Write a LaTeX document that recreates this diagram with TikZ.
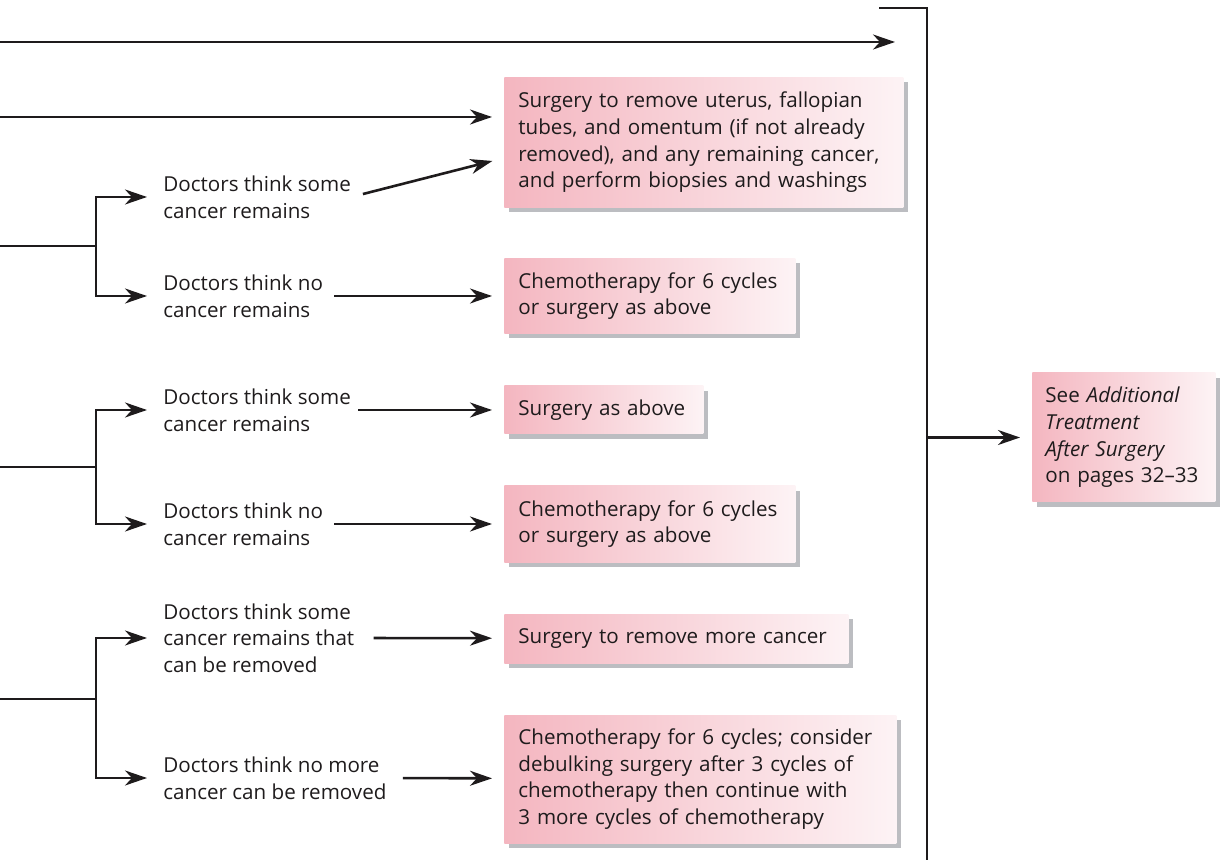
\documentclass[tikz,border=0pt]{standalone}
\usepackage{fontspec}
\setmainfont{Open Sans}
\usetikzlibrary{arrows.meta,shadows}
\begin{document}
\begin{tikzpicture}[x=0.5pt,y=-0.5pt,font=\fontsize{10.3}{13.3}\selectfont]
\definecolor{inkcolor}{RGB}{30,27,28}
\definecolor{pinkleft}{RGB}{244,182,192}
\definecolor{pinkright}{RGB}{253,243,245}
\definecolor{shadowcolor}{RGB}{188,189,193}
\tikzstyle{wire}=[inkcolor,line width=1.3pt]
\tikzstyle{arr}=[wire,-{Stealth[length=11pt,width=7.5pt,inset=3.5pt]}]
\tikzstyle{tobox}=[arr,shorten >=6pt]
\tikzstyle{doctext}=[text=inkcolor,align=left,inner sep=0pt,anchor=west]
\tikzstyle{treatbox}=[text=inkcolor,align=left,inner xsep=7pt,inner ysep=0pt,anchor=west,left color=pinkleft,right color=pinkright,drop shadow={shadow xshift=2.5pt,shadow yshift=-2.5pt,fill=shadowcolor,opacity=1}]
\useasboundingbox (0,0) rectangle (1220,860);
% treatment boxes
\node[treatbox,anchor=north west,text width=185.5pt,minimum height=65pt] (b1) at (504,77) {Surgery to remove uterus, fallopian\\tubes, and omentum (if not already\\removed), and any remaining cancer,\\and perform biopsies and washings};
\node[treatbox,text width=131.5pt,minimum height=37.5pt] (b2) at (504,296) {Chemotherapy for 6 cycles\\or surgery as above};
\node[treatbox,text width=85.5pt,minimum height=24pt] (b3) at (504,410) {Surgery as above};
\node[treatbox,text width=131.5pt,minimum height=38pt] (b4) at (504,524) {Chemotherapy for 6 cycles\\or surgery as above};
\node[treatbox,text width=158pt,minimum height=24.5pt] (b5) at (504,638.5) {Surgery to remove more cancer};
\node[treatbox,text width=182pt,minimum height=64pt] (b6) at (504,779) {Chemotherapy for 6 cycles; consider\\debulking surgery after 3 cycles of\\chemotherapy then continue with\\3 more cycles of chemotherapy};
\node[treatbox,inner xsep=6.5pt,text width=78.5pt,minimum height=64.5pt] (b7) at (1032,437.5) {See \emph{Additional}\\\emph{Treatment}\\\emph{After Surgery}\\on pages 32--33};
% what the doctors think
\node[doctext] (t1a) at (163,197) {Doctors think some\\cancer remains};
\node[doctext] (t1b) at (163,296) {Doctors think no\\cancer remains};
\node[doctext] (t2a) at (163,410) {Doctors think some\\cancer remains};
\node[doctext] (t2b) at (163,524) {Doctors think no\\cancer remains};
\node[doctext] (t3a) at (163,638) {Doctors think some\\cancer remains that\\can be removed};
\node[doctext] (t3b) at (163,778) {Doctors think no more\\cancer can be removed};
% free ends
\coordinate (inA) at (0,42);
\coordinate (tipA) at (895,42);
\coordinate (inB) at (0,117);
\coordinate (in1) at (0,246);
\coordinate (j1) at (96,246);
\coordinate (in2) at (0,467);
\coordinate (j2) at (96,467);
\coordinate (in3) at (0,699);
\coordinate (j3) at (96,699);
\coordinate (d1) at (504,158);
\coordinate (barTop) at (879,8);
\coordinate (barCorner) at (927,8);
\coordinate (barEnd) at (927,860);
% connectors
\draw[arr] (inA) -- (tipA);
\draw[tobox] (inB) -- (inB -| b1.west);
\draw[wire] (in1) -- (j1);
\draw[arr,shorten >=8pt] (j1) |- (t1a.west);
\draw[arr,shorten >=8pt] (j1) |- (t1b.west);
\draw[wire] (in2) -- (j2);
\draw[arr,shorten >=8pt] (j2) |- (t2a.west);
\draw[arr,shorten >=8pt] (j2) |- (t2b.west);
\draw[wire] (in3) -- (j3);
\draw[arr,shorten >=8pt] (j3) |- (t3a.west);
\draw[arr,shorten >=8pt] (j3) |- (t3b.west);
\draw[tobox,shorten <=6pt] (t1a.east) -- (d1);
\draw[tobox,shorten <=5.5pt] (t1b.east) -- (b2);
\draw[tobox,shorten <=3.5pt] (t2a.east) -- (b3);
\draw[tobox,shorten <=5.5pt] (t2b.east) -- (b4);
\draw[tobox,shorten <=9.5pt] (t3a.east) -- (b5);
\draw[tobox,shorten <=8pt] (t3b.east) -- (b6);
\draw[wire] (barTop) -- (barCorner) -- (barEnd);
\draw[tobox] (barCorner |- b7.west) -- (b7.west);
\end{tikzpicture}
\end{document}
